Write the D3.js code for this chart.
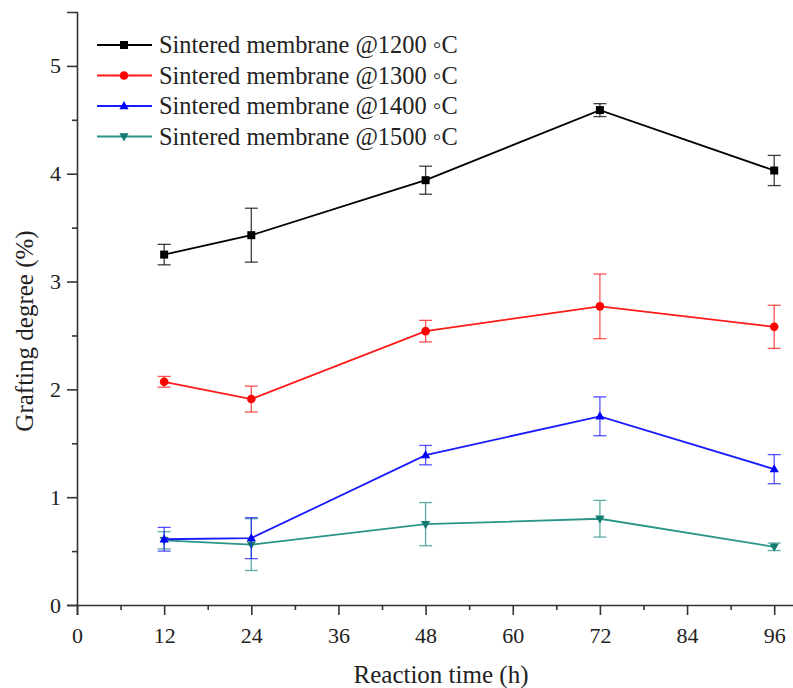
<!DOCTYPE html>
<html><head><meta charset="utf-8">
<script src="https://cdn.jsdelivr.net/npm/d3@7"></script>
<style>body{margin:0;background:#fff}svg{display:block}</style>
</head><body>
<svg id="c" width="793" height="688"></svg>
<script>
const times = [12, 24, 48, 72, 96];
const seriesNames = ["Sintered membrane @1200 \u25E6C","Sintered membrane @1300 \u25E6C","Sintered membrane @1400 \u25E6C","Sintered membrane @1500 \u25E6C"];
const v1200 = [3.25, 3.43, 3.94, 4.59, 4.03];
const e1200 = [0.095, 0.25, 0.13, 0.06, 0.14];
const v1300 = [2.07, 1.91, 2.54, 2.77, 2.58];
const e1300 = [0.05, 0.12, 0.10, 0.30, 0.20];
const v1400 = [0.61, 0.62, 1.39, 1.75, 1.26];
const e1400 = [0.11, 0.19, 0.09, 0.18, 0.135];
const v1500 = [0.60, 0.56, 0.75, 0.80, 0.54];
const e1500 = [0.08, 0.24, 0.20, 0.17, 0.035];
const xTicks = [0, 12, 24, 36, 48, 60, 72, 84, 96];
const yTicks = [0, 1, 2, 3, 4, 5];

const colors = ["#000000", "#ff1a1a", "#1a1aff", "#2a9488"];
const markerColors = ["#000000", "#ff0000", "#0000ff", "#137a6e"];
const symbols = ["square", "circle", "up", "down"];
const vals = [v1200, v1300, v1400, v1500];
const errs = [e1200, e1300, e1400, e1500];

const svg = d3.select("#c");
const x = d3.scaleLinear().domain([0, 99]).range([77, 796]);
const y = d3.scaleLinear().domain([0, 5.5]).range([605, 12]);
const font = "'Liberation Serif','Times New Roman',serif";

// axes
const gx = svg.append("g").attr("transform", "translate(0,605)");
gx.call(d3.axisBottom(x).tickValues(d3.range(6, 97, 12)).tickSize(5).tickFormat(""));
gx.call(g => g.select(".domain").remove());
const gx2 = svg.append("g").attr("transform", "translate(0,605)");
gx2.call(d3.axisBottom(x).tickValues(xTicks).tickSize(10).tickPadding(12).tickFormat(d3.format("d")));
const gy = svg.append("g").attr("transform", "translate(77,0)");
gy.call(d3.axisLeft(y).tickValues(d3.range(0.5, 5.5, 1)).tickSize(5).tickFormat(""));
gy.call(g => g.select(".domain").remove());
const gy2 = svg.append("g").attr("transform", "translate(77,0)");
gy2.call(d3.axisLeft(y).tickValues(yTicks).tickSize(10).tickPadding(6).tickFormat(d3.format("d")));
svg.selectAll(".domain").attr("stroke", "#333").attr("stroke-width", 1.6);
svg.selectAll(".tick line").attr("stroke", "#333").attr("stroke-width", 1.6);
svg.selectAll(".tick text").attr("font-family", font).attr("font-size", 22).attr("fill", "#222");

svg.append("text").attr("x", 441).attr("y", 683).attr("text-anchor", "middle")
  .attr("font-family", font).attr("font-size", 25).attr("fill", "#222").text("Reaction time (h)");
svg.append("text").attr("transform", "translate(33,331) rotate(-90)").attr("text-anchor", "middle")
  .attr("font-family", font).attr("font-size", 25).attr("fill", "#222").text("Grafting degree (%)");

function marker(g, type, cx, cy, col) {
  if (type === "square") g.append("rect").attr("x", cx - 4).attr("y", cy - 4).attr("width", 8).attr("height", 8).attr("fill", col);
  else if (type === "circle") g.append("circle").attr("cx", cx).attr("cy", cy).attr("r", 4.3).attr("fill", col);
  else if (type === "up") g.append("path").attr("d", `M${cx},${cy-5}L${cx+4.6},${cy+3.2}L${cx-4.6},${cy+3.2}Z`).attr("fill", col);
  else g.append("path").attr("d", `M${cx},${cy+5}L${cx+4.6},${cy-3.2}L${cx-4.6},${cy-3.2}Z`).attr("fill", col);
}

const line = d3.line().x(d => x(d.t)).y(d => y(d.v));
for (let s = 3; s >= 0; s--) {
  const data = times.map((t, i) => ({t, v: vals[s][i], e: errs[s][i]}));
  const g = svg.append("g");
  data.forEach(d => {
    const cx = x(d.t), top = y(d.v + d.e), bot = y(d.v - d.e);
    g.append("line").attr("x1", cx).attr("x2", cx).attr("y1", top).attr("y2", bot).attr("stroke", colors[s]).attr("stroke-width", 1.3).attr("opacity", 0.75);
    [top, bot].forEach(yy => g.append("line").attr("x1", cx - 6.5).attr("x2", cx + 6.5).attr("y1", yy).attr("y2", yy).attr("stroke", colors[s]).attr("stroke-width", 1.3).attr("opacity", 0.75));
  });
  g.append("path").datum(data).attr("d", line).attr("fill", "none").attr("stroke", colors[s]).attr("stroke-width", 1.8);
  data.forEach(d => marker(g, symbols[s], x(d.t), y(d.v), markerColors[s]));
}

// legend
const leg = svg.append("g");
seriesNames.forEach((name, i) => {
  const yy = 45 + i * 30.5;
  leg.append("line").attr("x1", 97).attr("x2", 152).attr("y1", yy).attr("y2", yy).attr("stroke", colors[i]).attr("stroke-width", 1.8);
  marker(leg, symbols[i], 124, yy, markerColors[i]);
  leg.append("text").attr("x", 159).attr("y", yy + 8).attr("font-family", font).attr("font-size", 24.4).attr("fill", "#222").text(name);
});
</script>
</body></html>
